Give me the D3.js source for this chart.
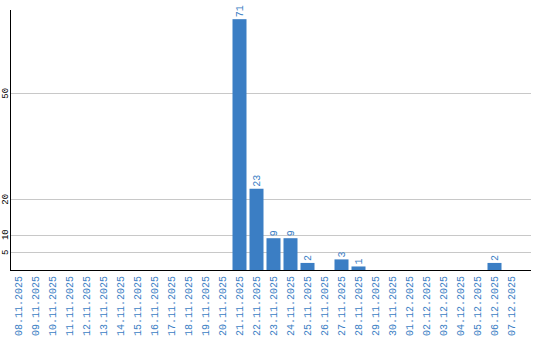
<!DOCTYPE html>
<html>
<head>
<meta charset="utf-8">
<script src="https://cdn.jsdelivr.net/npm/d3@7"></script>
<style>
  body { margin: 0; background: #fff; }
  svg { display: block; }
</style>
</head>
<body>
<svg width="540" height="340"></svg>
<script>
var dates = ["08.11.2025", "09.11.2025", "10.11.2025", "11.11.2025", "12.11.2025",
    "13.11.2025", "14.11.2025", "15.11.2025", "16.11.2025", "17.11.2025",
    "18.11.2025", "19.11.2025", "20.11.2025", "21.11.2025", "22.11.2025",
    "23.11.2025", "24.11.2025", "25.11.2025", "26.11.2025", "27.11.2025",
    "28.11.2025", "29.11.2025", "30.11.2025", "01.12.2025", "02.12.2025",
    "03.12.2025", "04.12.2025", "05.12.2025", "06.12.2025", "07.12.2025"];
var counts = [0, 0, 0, 0, 0, 0, 0, 0, 0, 0,
    0, 0, 0, 71, 23, 9, 9, 2, 0, 3,
    1, 0, 0, 0, 0, 0, 0, 0, 2, 0];
var yTicks = [5, 10, 20, 50];

(function () {
    var svg = d3.select("svg"),
        m = {left: 10, right: 520, grid: 531, top: 10, bottom: 270},
        blue = "#3b7ec4",
        font = "Liberation Mono";

    var x = d3.scaleBand()
        .domain(dates)
        .range([m.left, m.right])
        .paddingInner(3 / 17)
        .paddingOuter(1.5 / 17);

    var y = d3.scaleLinear()
        .domain([0, 73.6])
        .range([m.bottom, m.top]);

    // grid lines
    svg.append("g")
        .selectAll("line")
        .data(yTicks)
        .enter().append("line")
        .attr("x1", m.left)
        .attr("x2", m.grid)
        .attr("y1", function(d) { return Math.round(y(d)) + 0.5; })
        .attr("y2", function(d) { return Math.round(y(d)) + 0.5; })
        .attr("stroke", "#c8c8c8")
        .attr("stroke-width", 1);

    // y tick labels
    svg.append("g")
        .selectAll("text")
        .data(yTicks)
        .enter().append("text")
        .attr("transform", function(d) { return "translate(8," + y(d) + ") rotate(-90)"; })
        .attr("text-anchor", "middle")
        .attr("font-family", font)
        .attr("font-size", 9)
        .attr("fill", "#000")
        .text(function(d) { return d; });

    // bars
    var data = dates.map(function(d, i) { return {date: d, value: counts[i]}; });
    var shown = data.filter(function(d) { return d.value > 0; });

    svg.append("g")
        .selectAll("rect")
        .data(shown)
        .enter().append("rect")
        .attr("x", function(d) { return x(d.date); })
        .attr("width", x.bandwidth())
        .attr("y", function(d) { return y(d.value); })
        .attr("height", function(d) { return m.bottom - y(d.value); })
        .attr("fill", blue);

    // value labels
    svg.append("g")
        .selectAll("text")
        .data(shown)
        .enter().append("text")
        .attr("transform", function(d) {
            return "translate(" + (x(d.date) + x.bandwidth() / 2 + 3.5) + "," + (y(d.value) - 2) + ") rotate(-90)";
        })
        .attr("text-anchor", "start")
        .attr("font-family", font)
        .attr("font-size", 10)
        .attr("fill", blue)
        .text(function(d) { return d.value; });

    // axis lines
    svg.append("line")
        .attr("x1", m.left + 0.5).attr("x2", m.left + 0.5)
        .attr("y1", m.top).attr("y2", m.bottom + 1)
        .attr("stroke", "#000");
    svg.append("line")
        .attr("x1", m.left).attr("x2", m.grid)
        .attr("y1", m.bottom + 0.5).attr("y2", m.bottom + 0.5)
        .attr("stroke", "#000");

    // x labels
    svg.append("g")
        .selectAll("text")
        .data(dates)
        .enter().append("text")
        .attr("transform", function(d) {
            return "translate(" + (x(d) + x.bandwidth() / 2 + 3) + ",276) rotate(-90)";
        })
        .attr("text-anchor", "end")
        .attr("font-family", font)
        .attr("font-size", 10)
        .attr("fill", blue)
        .text(function(d) { return d; });
})();
</script>
</body>
</html>
